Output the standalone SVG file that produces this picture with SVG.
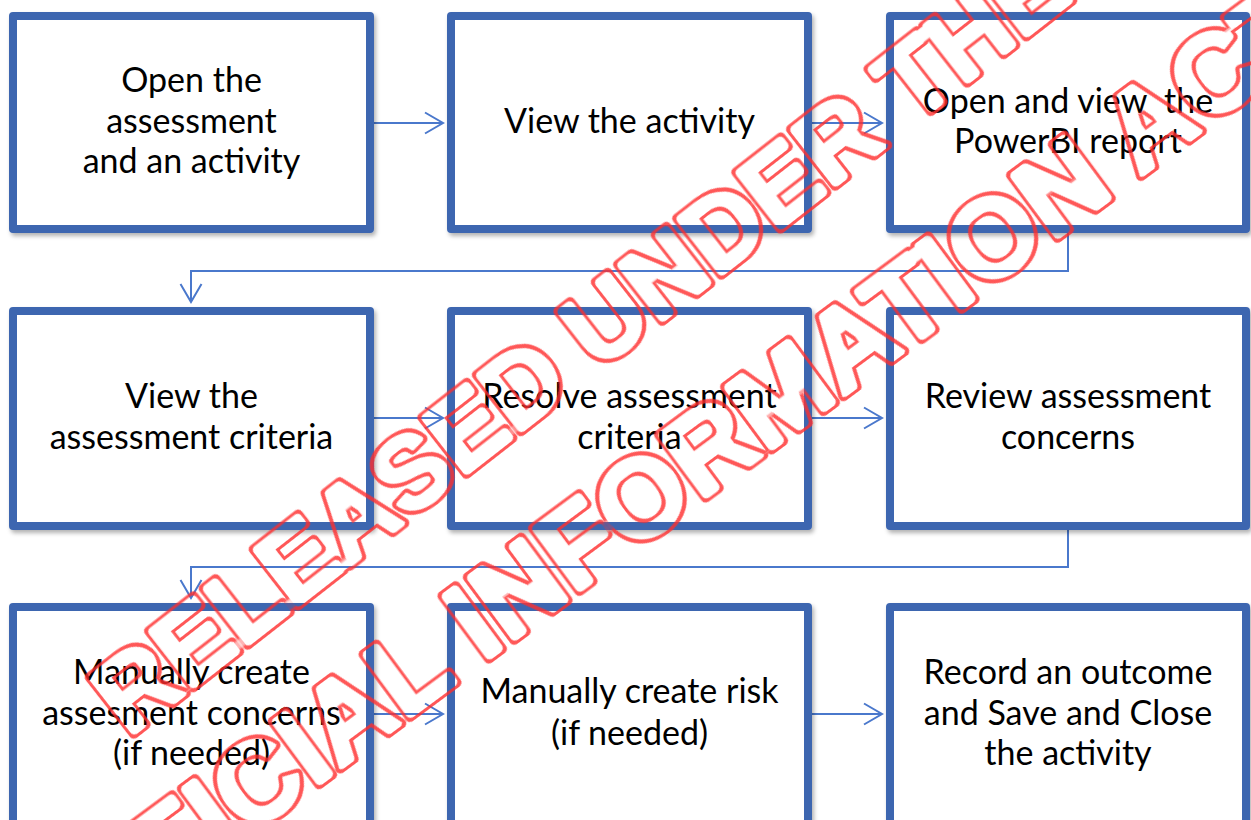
<svg xmlns="http://www.w3.org/2000/svg" width="1251" height="820" viewBox="0 0 1251 820">
<style>
.box{fill:#ffffff;stroke:#3d66b0;stroke-width:8;stroke-linejoin:round;filter:url(#sh)}
.lbl{font-family:Lato,"Liberation Sans",sans-serif;font-size:34px;fill:#000;text-anchor:middle;white-space:pre}
.con{fill:none;stroke:#4a78cc;stroke-width:2}
.wm{font-family:"Liberation Sans",Arial,sans-serif;font-weight:bold;fill:#ff2e2e;stroke:#ff2e2e;stroke-width:10;stroke-linejoin:round;stroke-linecap:round;text-anchor:middle;filter:url(#ring)}
</style>
<defs>
<filter id="sh" x="-5%" y="-5%" width="112%" height="115%">
<feDropShadow dx="2" dy="3" stdDeviation="2" flood-color="#000" flood-opacity="0.3"/>
</filter>
<filter id="ring" x="-3%" y="-25%" width="106%" height="150%">
<feMorphology in="SourceAlpha" operator="erode" radius="3" result="inner"/>
<feComposite in="SourceGraphic" in2="inner" operator="out"/>
</filter>
<marker id="ah" markerUnits="userSpaceOnUse" viewBox="-20 -12 22 24" markerWidth="22" markerHeight="24" refX="0" refY="0" orient="auto">
<path d="M-18,-10.5 L0,0 L-18,10.5" fill="none" stroke="#4a78cc" stroke-width="2"/>
</marker>
</defs>
<rect width="1251" height="820" fill="#fff"/>
<g id="connectors">
<line class="con" x1="374" y1="123" x2="443" y2="123" marker-end="url(#ah)"/>
<line class="con" x1="812" y1="123" x2="882" y2="123" marker-end="url(#ah)"/>
<polyline class="con" points="1068,233 1068,271 191,271 191,302" marker-end="url(#ah)"/>
<line class="con" x1="374" y1="418" x2="443" y2="418" marker-end="url(#ah)"/>
<line class="con" x1="812" y1="418" x2="882" y2="418" marker-end="url(#ah)"/>
<polyline class="con" points="1068,530 1068,567 191,567 191,598" marker-end="url(#ah)"/>
<line class="con" x1="374" y1="714" x2="443" y2="714" marker-end="url(#ah)"/>
<line class="con" x1="812" y1="714" x2="882" y2="714" marker-end="url(#ah)"/>
</g>
<g id="n1"><rect class="box" x="13" y="16" width="357" height="213"/>
<text class="lbl" x="191.5" y="92">Open the</text><text class="lbl" x="191.5" y="133">assessment</text><text class="lbl" x="191.5" y="173">and an activity</text></g>
<g id="n2"><rect class="box" x="451" y="16" width="357" height="213"/>
<text class="lbl" x="629.5" y="133">View the activity</text></g>
<g id="n3"><rect class="box" x="890" y="16" width="356" height="213"/>
<text class="lbl" x="1068" y="113">Open and view  the</text><text class="lbl" x="1068" y="153">PowerBI report</text></g>
<g id="n4"><rect class="box" x="13" y="311" width="357" height="215"/>
<text class="lbl" x="191.5" y="408">View the</text><text class="lbl" x="191.5" y="449">assessment criteria</text></g>
<g id="n5"><rect class="box" x="451" y="311" width="357" height="215"/>
<text class="lbl" x="629.5" y="408">Resolve assessment</text><text class="lbl" x="629.5" y="449">criteria</text></g>
<g id="n6"><rect class="box" x="890" y="311" width="356" height="215"/>
<text class="lbl" x="1068" y="408">Review assessment</text><text class="lbl" x="1068" y="449">concerns</text></g>
<g id="n7"><rect class="box" x="13" y="607" width="357" height="220"/>
<text class="lbl" x="191.5" y="684">Manually create</text><text class="lbl" x="191.5" y="725">assesment concerns</text><text class="lbl" x="191.5" y="765">(if needed)</text></g>
<g id="n8"><rect class="box" x="451" y="607" width="357" height="220"/>
<text class="lbl" x="629.5" y="703">Manually create risk</text><text class="lbl" x="629.5" y="745">(if needed)</text></g>
<g id="n9"><rect class="box" x="890" y="607" width="356" height="220"/>
<text class="lbl" x="1068" y="684">Record an outcome</text><text class="lbl" x="1068" y="725">and Save and Close</text><text class="lbl" x="1068" y="765">the activity</text></g>
<g id="watermark" opacity="0.8">
<text class="wm" font-size="104" transform="translate(602,368) rotate(-38)">RELEASED UNDER THE</text>
<text class="wm" font-size="113" transform="translate(683,515) rotate(-36.5)">OFFICIAL INFORMATION ACT</text>
</g>
</svg>
